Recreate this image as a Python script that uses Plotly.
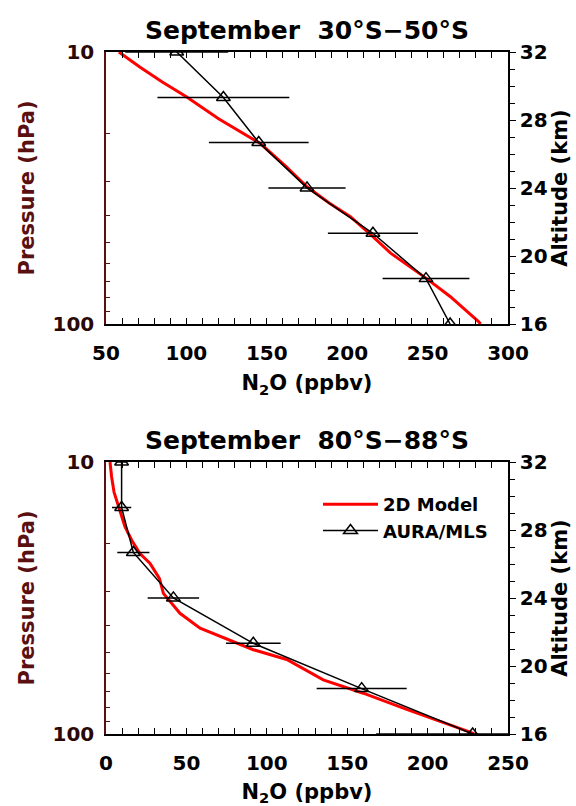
import plotly.graph_objects as go

# ---------------- data ----------------
p_mls = [10, 14.7, 21.5, 31.6, 46.4, 68.1, 100]

top_mls = [94, 123, 145, 175, 216, 249, 264]
top_err = [32, 41, 31, 24, 28, 27, 0]
top_model_p = [10, 11.35, 12.9, 14.6, 17.6, 20.2, 21.7, 26.4, 31.3, 36, 40.3, 47.7, 54.9, 67.8, 79.2, 97.7, 100]
top_model_v = [58, 71, 85, 100, 120, 137.5, 146, 162, 175, 189, 202, 216, 227, 249, 264, 281.5, 283]

bot_mls = [9.7, 9.7, 17.0, 41.9, 91.6, 159.0, 228.0]
bot_err = [3.6, 6, 10, 16, 17, 28, 60]
bot_model_p = [10, 11.35, 12.9, 14.6, 17.3, 19.4, 21.7, 23.6, 26.8, 30.4, 36, 40.8, 43.2, 49, 53.2, 63.2, 70.8, 81.2, 98.5, 100]
bot_model_v = [2.5, 3.5, 5.0, 7.7, 11.8, 16.0, 21.1, 27.4, 33.2, 35.7, 46, 58.5, 68.8, 91.6, 112.4, 135.1, 160, 187, 226.4, 229]

titles = ["September  30°S\u221250°S", "September  80°S\u221288°S"]
x_ranges = [[50, 300], [0, 250]]
p_ticks = [10, 100]
p_minor = [20, 30, 40, 50, 60, 70, 80, 90]
alt_range = [16, 32]

# ---------------- figure ----------------
W, H = 576, 806
FONT = "DejaVu Sans"
MAROON = "#5a1010"

fig = go.Figure()

# pixel geometry of plot boxes
xd = [106 / W, 508 / W]
yd_top = [(H - 324) / H, (H - 52) / H]
yd_bot = [(H - 734) / H, (H - 462) / H]

panels = [
    dict(mls=top_mls, err=top_err, mp=top_model_p, mv=top_model_v, xa="x", ya="y", ya2="y2", leg=False),
    dict(mls=bot_mls, err=bot_err, mp=bot_model_p, mv=bot_model_v, xa="x2", ya="y3", ya2="y4", leg=True),
]

for i, pn in enumerate(panels):
    fig.add_trace(go.Scatter(
        x=pn["mv"], y=pn["mp"], mode="lines", name="2D Model",
        line=dict(color="#ff0000", width=3),
        xaxis=pn["xa"], yaxis=pn["ya"], showlegend=pn["leg"],
    ))
    fig.add_trace(go.Scatter(
        x=pn["mls"], y=p_mls, mode="lines+markers", name="AURA/MLS",
        line=dict(color="black", width=1.5),
        marker=dict(symbol="triangle-up-open", size=12, color="black", line=dict(width=1.5)),
        error_x=dict(type="data", array=pn["err"], color="black", thickness=1.5, width=0),
        xaxis=pn["xa"], yaxis=pn["ya"], showlegend=pn["leg"],
    ))
    # carrier for the altitude axis
    fig.add_trace(go.Scatter(
        x=[None, None], y=alt_range, mode="lines", showlegend=False, hoverinfo="skip",
        xaxis=pn["xa"], yaxis=pn["ya2"],
    ))

tickfont = dict(family=FONT, size=20, color="black", weight="bold")
titlefont = dict(family=FONT, size=21, color="black", weight="bold")

def xaxis(rng, anchor):
    return dict(
        domain=xd, range=rng, anchor=anchor, autorange=False,
        showline=True, linecolor="black", linewidth=1.5, mirror="allticks",
        ticks="inside", ticklen=6, tickwidth=1.2, tickcolor="black", dtick=50, tick0=0,
        minor=dict(ticks="inside", ticklen=3, dtick=10, tickcolor="black", tickwidth=1.2),
        showgrid=False, zeroline=False, tickfont=tickfont, ticklabelstandoff=10,
        title=dict(text="N<sub>2</sub>O (ppbv)", font=titlefont, standoff=12),
        automargin=False,
    )

def paxis(dom, anchor):
    return dict(
        domain=dom, type="log", range=[2, 1], anchor=anchor, autorange=False,
        showline=True, linecolor=MAROON, linewidth=1.5, mirror=False,
        ticks="inside", ticklen=6, tickwidth=1.2, tickcolor=MAROON,
        tickvals=p_ticks, ticktext=[str(v) for v in p_ticks],
        minor=dict(ticks="inside", ticklen=4, tickvals=p_minor, tickcolor=MAROON, tickwidth=1.2),
        showgrid=False, zeroline=False,
        tickfont=dict(family=FONT, size=20, color="#2a0808", weight="bold"), ticklabelstandoff=6,
        title=dict(text="Pressure (hPa)", font=dict(family=FONT, size=21, color=MAROON, weight="bold"), standoff=12),
        automargin=False,
    )

def aaxis(overlay, anchor):
    return dict(
        overlaying=overlay, side="right", anchor=anchor, range=alt_range, autorange=False,
        showline=True, linecolor="black", linewidth=1.5,
        ticks="outside", ticklen=6, tickwidth=1.2, tickcolor="black", dtick=4, tick0=0,
        minor=dict(ticks="outside", ticklen=5, dtick=1, tickcolor="black", tickwidth=1.2),
        showgrid=False, zeroline=False, tickfont=tickfont, ticklabelstandoff=0,
        title=dict(text="Altitude (km)", font=titlefont, standoff=0),
        automargin=False,
    )

fig.update_layout(
    width=W, height=H,
    margin=dict(l=0, r=0, t=0, b=0),
    paper_bgcolor="white", plot_bgcolor="white",
    font=dict(family=FONT, color="black"),
    xaxis=xaxis(x_ranges[0], "y"),
    yaxis=paxis(yd_top, "x"),
    yaxis2=aaxis("y", "x"),
    xaxis2=xaxis(x_ranges[1], "y3"),
    yaxis3=paxis(yd_bot, "x2"),
    yaxis4=aaxis("y3", "x2"),
    legend=dict(
        x=318 / W, y=(H - 486) / H, xanchor="left", yanchor="top",
        bgcolor="rgba(0,0,0,0)", font=dict(family=FONT, size=18, color="black", weight="bold"),
        itemwidth=55, tracegroupgap=0,
    ),
    showlegend=True,
)

for t, ytop in zip(titles, [yd_top[1], yd_bot[1]]):
    fig.add_annotation(
        text=t, xref="paper", yref="paper", x=(xd[0] + xd[1]) / 2, y=ytop + 5 / H,
        xanchor="center", yanchor="bottom", showarrow=False,
        font=dict(family=FONT, size=25, color="black", weight="bold"),
    )

fig.write_html("out.html")
